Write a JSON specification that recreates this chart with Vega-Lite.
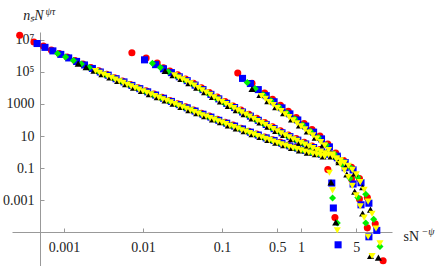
{
"$schema": "https://vega.github.io/schema/vega-lite/v6.json",
"width": 380, "height": 234,
"autosize": "none",
"padding": {"left": 12, "top": 32, "right": 44, "bottom": 0},
"background": "white",
"config": {"view": {"stroke": null}, "font": "Liberation Serif"},
"datasets": {"pts": [
{"k":1,"s":2.754e-4,"n":1.995e7},{"k":1,"s":4.169e-4,"n":7.586e6},{"k":1,"s":5.495e-4,"n":4.169e6},{"k":1,"s":6.918e-4,"n":2.399e6},{"k":1,"s":8.710e-4,"n":1.445e6},{"k":1,"s":1.096e-3,"n":8.710e5},{"k":1,"s":1.380e-3,"n":5.248e5},{"k":1,"s":1.738e-3,"n":3.162e5},{"k":1,"s":2.188e-3,"n":1.905e5},{"k":1,"s":2.754e-3,"n":1.202e5},{"k":1,"s":3.467e-3,"n":7.244e4},{"k":1,"s":4.365e-3,"n":4.365e4},{"k":1,"s":5.495e-3,"n":2.754e4},{"k":1,"s":6.918e-3,"n":1.660e4},{"k":1,"s":8.710e-3,"n":1.047e4},{"k":1,"s":1.096e-2,"n":6.607e3},{"k":1,"s":1.380e-2,"n":4.169e3},{"k":1,"s":1.738e-2,"n":2.630e3},{"k":1,"s":2.188e-2,"n":1.660e3},{"k":1,"s":2.754e-2,"n":1.047e3},{"k":1,"s":3.467e-2,"n":660.7},{"k":1,"s":4.365e-2,"n":416.9},{"k":1,"s":5.495e-2,"n":263.0},{"k":1,"s":6.918e-2,"n":173.8},{"k":1,"s":8.710e-2,"n":109.6},{"k":1,"s":0.1096,"n":72.44},{"k":1,"s":0.1380,"n":47.86},{"k":1,"s":0.1738,"n":30.20},{"k":1,"s":0.2188,"n":19.95},{"k":1,"s":0.2754,"n":13.18},{"k":1,"s":0.3467,"n":8.710},{"k":1,"s":0.4365,"n":5.754},{"k":1,"s":0.5495,"n":3.981},{"k":1,"s":0.6918,"n":2.754},{"k":1,"s":0.8710,"n":1.995},{"k":1,"s":1.096,"n":1.380},{"k":1,"s":1.380,"n":1.047},{"k":1,"s":1.738,"n":0.7943},{"k":1,"s":2.188,"n":0.07943},{"k":1,"s":2.692,"n":7.943e-5},
{"k":1,"s":7.244e-3,"n":1.585e6},{"k":1,"s":1.096e-2,"n":7.586e5},{"k":1,"s":1.514e-2,"n":3.631e5},{"k":1,"s":1.820e-2,"n":1.820e5},{"k":1,"s":2.188e-2,"n":1.148e5},{"k":1,"s":2.754e-2,"n":6.607e4},{"k":1,"s":3.467e-2,"n":3.631e4},{"k":1,"s":4.365e-2,"n":1.995e4},{"k":1,"s":5.495e-2,"n":1.047e4},{"k":1,"s":6.918e-2,"n":5.248e3},{"k":1,"s":8.710e-2,"n":2.754e3},{"k":1,"s":0.1096,"n":1.445e3},{"k":1,"s":0.1380,"n":758.6},{"k":1,"s":0.1738,"n":416.9},{"k":1,"s":0.2188,"n":229.1},{"k":1,"s":0.2754,"n":125.9},{"k":1,"s":0.3467,"n":69.18},{"k":1,"s":0.4365,"n":38.02},{"k":1,"s":0.5495,"n":20.89},{"k":1,"s":0.6918,"n":11.48},{"k":1,"s":0.8710,"n":6.918},{"k":1,"s":1.096,"n":3.981},{"k":1,"s":1.380,"n":2.399},{"k":1,"s":1.738,"n":1.445},{"k":1,"s":2.188,"n":0.9120},{"k":1,"s":2.754,"n":0.5495},{"k":1,"s":3.467,"n":0.2884},{"k":1,"s":4.365,"n":0.1096},{"k":1,"s":5.495,"n":2.188e-2},{"k":1,"s":6.918,"n":1.445e-3},{"k":1,"s":8.710,"n":3.311e-5},{"k":1,"s":10.96,"n":1.585e-7},
{"k":1,"s":0.1585,"n":8.710e4},{"k":1,"s":0.2399,"n":1.995e4},{"k":1,"s":0.3467,"n":4.786e3},{"k":1,"s":0.4365,"n":1.995e3},{"k":1,"s":0.5495,"n":831.8},{"k":1,"s":0.6918,"n":346.7},{"k":1,"s":0.8710,"n":144.5},{"k":1,"s":1.096,"n":60.26},{"k":1,"s":1.380,"n":25.12},{"k":1,"s":1.738,"n":10.0},{"k":1,"s":2.188,"n":3.162},{"k":1,"s":2.754,"n":0.8710},{"k":1,"s":3.467,"n":0.1820},{"k":1,"s":4.365,"n":2.089e-2},{"k":1,"s":5.495,"n":1.148e-3},{"k":1,"s":6.918,"n":1.820e-5},
{"k":2,"s":4.571e-4,"n":6.026e6},{"k":2,"s":5.754e-4,"n":3.467e6},{"k":2,"s":7.244e-4,"n":2.089e6},{"k":2,"s":9.120e-4,"n":1.259e6},{"k":2,"s":1.148e-3,"n":7.586e5},{"k":2,"s":1.445e-3,"n":4.571e5},{"k":2,"s":1.820e-3,"n":2.754e5},{"k":2,"s":2.291e-3,"n":1.660e5},{"k":2,"s":2.884e-3,"n":1.0e5},{"k":2,"s":3.631e-3,"n":6.310e4},{"k":2,"s":4.571e-3,"n":3.802e4},{"k":2,"s":5.754e-3,"n":2.399e4},{"k":2,"s":7.244e-3,"n":1.445e4},{"k":2,"s":9.120e-3,"n":9.120e3},{"k":2,"s":1.148e-2,"n":5.754e3},{"k":2,"s":1.445e-2,"n":3.631e3},{"k":2,"s":1.820e-2,"n":2.291e3},{"k":2,"s":2.291e-2,"n":1.445e3},{"k":2,"s":2.884e-2,"n":912.0},{"k":2,"s":3.631e-2,"n":575.4},{"k":2,"s":4.571e-2,"n":363.1},{"k":2,"s":5.754e-2,"n":229.1},{"k":2,"s":7.244e-2,"n":151.4},{"k":2,"s":9.120e-2,"n":95.50},{"k":2,"s":0.1148,"n":63.10},{"k":2,"s":0.1445,"n":41.69},{"k":2,"s":0.1820,"n":27.54},{"k":2,"s":0.2291,"n":17.38},{"k":2,"s":0.2884,"n":11.48},{"k":2,"s":0.3631,"n":7.586},{"k":2,"s":0.4571,"n":5.248},{"k":2,"s":0.5754,"n":3.467},{"k":2,"s":0.7244,"n":2.399},{"k":2,"s":0.9120,"n":1.738},{"k":2,"s":1.148,"n":1.259},{"k":2,"s":1.445,"n":0.9550},{"k":2,"s":1.820,"n":0.7244},{"k":2,"s":2.455,"n":1.148e-2},{"k":2,"s":2.570,"n":3.162e-4},{"k":2,"s":2.951,"n":1.585e-6},
{"k":2,"s":1.047e-2,"n":5.754e5},{"k":2,"s":1.445e-2,"n":2.884e5},{"k":2,"s":1.820e-2,"n":1.585e5},{"k":2,"s":2.291e-2,"n":9.120e4},{"k":2,"s":2.884e-2,"n":5.012e4},{"k":2,"s":3.631e-2,"n":2.884e4},{"k":2,"s":4.571e-2,"n":1.514e4},{"k":2,"s":5.754e-2,"n":7.943e3},{"k":2,"s":7.244e-2,"n":3.981e3},{"k":2,"s":9.120e-2,"n":2.089e3},{"k":2,"s":0.1148,"n":1.096e3},{"k":2,"s":0.1445,"n":602.6},{"k":2,"s":0.1820,"n":316.2},{"k":2,"s":0.2291,"n":173.8},{"k":2,"s":0.2884,"n":95.50},{"k":2,"s":0.3631,"n":52.48},{"k":2,"s":0.4571,"n":28.84},{"k":2,"s":0.5754,"n":15.85},{"k":2,"s":0.7244,"n":9.120},{"k":2,"s":0.9120,"n":5.495},{"k":2,"s":1.148,"n":3.162},{"k":2,"s":1.445,"n":1.905},{"k":2,"s":1.820,"n":1.148},{"k":2,"s":2.291,"n":0.7244},{"k":2,"s":2.884,"n":0.4365},{"k":2,"s":3.631,"n":0.2188},{"k":2,"s":4.571,"n":7.586e-2},{"k":2,"s":5.754,"n":1.202e-2},{"k":2,"s":7.244,"n":6.310e-4},{"k":2,"s":9.120,"n":1.259e-5},
{"k":2,"s":0.1820,"n":3.981e4},{"k":2,"s":0.2291,"n":1.905e4},{"k":2,"s":0.2884,"n":7.943e3},{"k":2,"s":0.3631,"n":3.311e3},{"k":2,"s":0.4571,"n":1.380e3},{"k":2,"s":0.5754,"n":575.4},{"k":2,"s":0.7244,"n":239.9},{"k":2,"s":0.9120,"n":100},{"k":2,"s":1.148,"n":41.69},{"k":2,"s":1.445,"n":17.38},{"k":2,"s":1.820,"n":6.607},{"k":2,"s":2.291,"n":2.089},{"k":2,"s":2.884,"n":0.5495},{"k":2,"s":3.631,"n":0.1047},{"k":2,"s":4.571,"n":1.0e-2},{"k":2,"s":5.754,"n":5.012e-4},{"k":2,"s":7.244,"n":5.012e-6},
{"k":3,"s":8.318e-4,"n":1.445e6},{"k":3,"s":1.047e-3,"n":8.710e5},{"k":3,"s":1.318e-3,"n":5.248e5},{"k":3,"s":1.660e-3,"n":3.162e5},{"k":3,"s":2.089e-3,"n":1.905e5},{"k":3,"s":2.630e-3,"n":1.148e5},{"k":3,"s":3.311e-3,"n":6.918e4},{"k":3,"s":4.169e-3,"n":4.365e4},{"k":3,"s":5.248e-3,"n":2.630e4},{"k":3,"s":6.607e-3,"n":1.660e4},{"k":3,"s":8.318e-3,"n":1.047e4},{"k":3,"s":1.047e-2,"n":6.310e3},{"k":3,"s":1.318e-2,"n":3.981e3},{"k":3,"s":1.660e-2,"n":2.512e3},{"k":3,"s":2.089e-2,"n":1.585e3},{"k":3,"s":2.630e-2,"n":1.000e3},{"k":3,"s":3.311e-2,"n":631.0},{"k":3,"s":4.169e-2,"n":416.9},{"k":3,"s":5.248e-2,"n":263.0},{"k":3,"s":6.607e-2,"n":166.0},{"k":3,"s":8.318e-2,"n":109.6},{"k":3,"s":0.1047,"n":69.18},{"k":3,"s":0.1318,"n":45.71},{"k":3,"s":0.1660,"n":30.20},{"k":3,"s":0.2089,"n":19.95},{"k":3,"s":0.2630,"n":13.18},{"k":3,"s":0.3311,"n":8.318},{"k":3,"s":0.4169,"n":5.754},{"k":3,"s":0.5248,"n":3.802},{"k":3,"s":0.6607,"n":2.630},{"k":3,"s":0.8318,"n":1.820},{"k":3,"s":1.047,"n":1.318},{"k":3,"s":1.318,"n":0.9550},{"k":3,"s":1.660,"n":0.7586},{"k":3,"s":2.512,"n":1.318e-3},{"k":3,"s":2.884,"n":3.631e-5},
{"k":3,"s":1.318e-2,"n":3.467e5},{"k":3,"s":1.660e-2,"n":1.905e5},{"k":3,"s":2.089e-2,"n":1.047e5},{"k":3,"s":2.630e-2,"n":5.754e4},{"k":3,"s":3.311e-2,"n":3.311e4},{"k":3,"s":4.169e-2,"n":1.820e4},{"k":3,"s":5.248e-2,"n":9.120e3},{"k":3,"s":6.607e-2,"n":4.786e3},{"k":3,"s":8.318e-2,"n":2.399e3},{"k":3,"s":0.1047,"n":1.259e3},{"k":3,"s":0.1318,"n":691.8},{"k":3,"s":0.1660,"n":380.2},{"k":3,"s":0.2089,"n":208.9},{"k":3,"s":0.2630,"n":109.6},{"k":3,"s":0.3311,"n":60.26},{"k":3,"s":0.4169,"n":33.11},{"k":3,"s":0.5248,"n":18.20},{"k":3,"s":0.6607,"n":10.47},{"k":3,"s":0.8318,"n":6.026},{"k":3,"s":1.047,"n":3.631},{"k":3,"s":1.318,"n":2.089},{"k":3,"s":1.660,"n":1.259},{"k":3,"s":2.089,"n":0.7943},{"k":3,"s":2.630,"n":0.5012},{"k":3,"s":3.311,"n":0.2754},{"k":3,"s":4.169,"n":0.1148},{"k":3,"s":5.248,"n":2.630e-2},{"k":3,"s":6.607,"n":2.291e-3},{"k":3,"s":8.318,"n":6.310e-5},{"k":3,"s":10.0,"n":1.259e-6},
{"k":3,"s":0.2089,"n":2.188e4},{"k":3,"s":0.2630,"n":9.120e3},{"k":3,"s":0.3311,"n":3.802e3},{"k":3,"s":0.4169,"n":1.585e3},{"k":3,"s":0.5248,"n":660.7},{"k":3,"s":0.6607,"n":275.4},{"k":3,"s":0.8318,"n":114.8},{"k":3,"s":1.047,"n":47.86},{"k":3,"s":1.318,"n":19.95},{"k":3,"s":1.660,"n":7.943},{"k":3,"s":2.089,"n":2.754},{"k":3,"s":2.630,"n":0.7586},{"k":3,"s":3.311,"n":0.1738},{"k":3,"s":4.169,"n":2.291e-2},{"k":3,"s":5.248,"n":1.445e-3},{"k":3,"s":6.607,"n":3.631e-5},
{"k":4,"s":1.514e-3,"n":3.311e5},{"k":4,"s":1.905e-3,"n":1.995e5},{"k":4,"s":2.399e-3,"n":1.202e5},{"k":4,"s":3.020e-3,"n":7.244e4},{"k":4,"s":3.802e-3,"n":4.571e4},{"k":4,"s":4.786e-3,"n":2.754e4},{"k":4,"s":6.026e-3,"n":1.738e4},{"k":4,"s":7.586e-3,"n":1.047e4},{"k":4,"s":9.550e-3,"n":6.607e3},{"k":4,"s":1.202e-2,"n":4.169e3},{"k":4,"s":1.514e-2,"n":2.630e3},{"k":4,"s":1.905e-2,"n":1.660e3},{"k":4,"s":2.399e-2,"n":1.047e3},{"k":4,"s":3.020e-2,"n":660.7},{"k":4,"s":3.802e-2,"n":416.9},{"k":4,"s":4.786e-2,"n":263.0},{"k":4,"s":6.026e-2,"n":173.8},{"k":4,"s":7.586e-2,"n":109.6},{"k":4,"s":9.550e-2,"n":72.44},{"k":4,"s":0.1202,"n":45.71},{"k":4,"s":0.1514,"n":30.20},{"k":4,"s":0.1905,"n":19.95},{"k":4,"s":0.2399,"n":13.18},{"k":4,"s":0.3020,"n":8.710},{"k":4,"s":0.3802,"n":5.754},{"k":4,"s":0.4786,"n":3.802},{"k":4,"s":0.6026,"n":2.630},{"k":4,"s":0.7586,"n":1.820},{"k":4,"s":0.9550,"n":1.259},{"k":4,"s":1.202,"n":0.9120},{"k":4,"s":1.514,"n":0.7244},{"k":4,"s":1.905,"n":0.5248},{"k":4,"s":2.399,"n":1.259e-2},{"k":4,"s":2.754,"n":3.981e-5},
{"k":4,"s":1.905e-2,"n":1.148e5},{"k":4,"s":2.399e-2,"n":6.310e4},{"k":4,"s":3.020e-2,"n":3.631e4},{"k":4,"s":3.802e-2,"n":1.995e4},{"k":4,"s":4.786e-2,"n":1.047e4},{"k":4,"s":6.026e-2,"n":5.495e3},{"k":4,"s":7.586e-2,"n":2.754e3},{"k":4,"s":9.550e-2,"n":1.445e3},{"k":4,"s":0.1202,"n":758.6},{"k":4,"s":0.1514,"n":416.9},{"k":4,"s":0.1905,"n":229.1},{"k":4,"s":0.2399,"n":125.9},{"k":4,"s":0.3020,"n":69.18},{"k":4,"s":0.3802,"n":38.02},{"k":4,"s":0.4786,"n":20.89},{"k":4,"s":0.6026,"n":11.48},{"k":4,"s":0.7586,"n":6.607},{"k":4,"s":0.9550,"n":3.802},{"k":4,"s":1.202,"n":2.291},{"k":4,"s":1.514,"n":1.380},{"k":4,"s":1.905,"n":0.8318},{"k":4,"s":2.399,"n":0.5248},{"k":4,"s":3.020,"n":0.3020},{"k":4,"s":3.802,"n":0.1514},{"k":4,"s":4.786,"n":4.571e-2},{"k":4,"s":6.026,"n":6.310e-3},{"k":4,"s":7.586,"n":2.512e-4},{"k":4,"s":9.550,"n":2.512e-7},
{"k":4,"s":0.2399,"n":8.710e3},{"k":4,"s":0.3020,"n":3.631e3},{"k":4,"s":0.3802,"n":1.514e3},{"k":4,"s":0.4786,"n":631.0},{"k":4,"s":0.6026,"n":263.0},{"k":4,"s":0.7586,"n":109.6},{"k":4,"s":0.9550,"n":45.71},{"k":4,"s":1.202,"n":19.05},{"k":4,"s":1.514,"n":7.943},{"k":4,"s":1.905,"n":2.884},{"k":4,"s":2.399,"n":0.8710},{"k":4,"s":3.020,"n":0.2291},{"k":4,"s":3.802,"n":3.981e-2},{"k":4,"s":4.786,"n":3.311e-3},{"k":4,"s":6.026,"n":1.445e-4},{"k":4,"s":7.586,"n":3.162e-7},
{"k":5,"s":2.512e-3,"n":1.148e5},{"k":5,"s":3.162e-3,"n":6.918e4},{"k":5,"s":3.981e-3,"n":4.365e4},{"k":5,"s":5.012e-3,"n":2.630e4},{"k":5,"s":6.310e-3,"n":1.585e4},{"k":5,"s":7.943e-3,"n":1.0e4},{"k":5,"s":1.0e-2,"n":6.310e3},{"k":5,"s":1.259e-2,"n":3.981e3},{"k":5,"s":1.585e-2,"n":2.512e3},{"k":5,"s":1.995e-2,"n":1.585e3},{"k":5,"s":2.512e-2,"n":1.0e3},{"k":5,"s":3.162e-2,"n":631.0},{"k":5,"s":3.981e-2,"n":398.1},{"k":5,"s":5.012e-2,"n":251.2},{"k":5,"s":6.310e-2,"n":166.0},{"k":5,"s":7.943e-2,"n":104.7},{"k":5,"s":0.1,"n":69.18},{"k":5,"s":0.1259,"n":43.65},{"k":5,"s":0.1585,"n":28.84},{"k":5,"s":0.1995,"n":19.05},{"k":5,"s":0.2512,"n":12.59},{"k":5,"s":0.3162,"n":8.318},{"k":5,"s":0.3981,"n":5.495},{"k":5,"s":0.5012,"n":3.631},{"k":5,"s":0.6310,"n":2.512},{"k":5,"s":0.7943,"n":1.738},{"k":5,"s":1.0,"n":1.259},{"k":5,"s":1.259,"n":0.9120},{"k":5,"s":1.585,"n":0.6918},{"k":5,"s":1.995,"n":0.5248},{"k":5,"s":2.291,"n":0.05012},{"k":5,"s":2.512,"n":3.981e-3},{"k":5,"s":2.884,"n":1.259e-5},
{"k":5,"s":2.818e-3,"n":8.913e4},{"k":5,"s":3.548e-3,"n":5.495e4},{"k":5,"s":4.467e-3,"n":3.311e4},{"k":5,"s":5.623e-3,"n":2.089e4},{"k":5,"s":7.079e-3,"n":1.259e4},{"k":5,"s":8.913e-3,"n":7.943e3},{"k":5,"s":1.122e-2,"n":5.012e3},{"k":5,"s":1.413e-2,"n":3.162e3},{"k":5,"s":1.778e-2,"n":1.995e3},{"k":5,"s":2.239e-2,"n":1.259e3},{"k":5,"s":2.818e-2,"n":794.3},{"k":5,"s":3.548e-2,"n":501.2},{"k":5,"s":4.467e-2,"n":316.2},{"k":5,"s":5.623e-2,"n":199.5},{"k":5,"s":7.079e-2,"n":131.8},{"k":5,"s":8.913e-2,"n":83.18},{"k":5,"s":0.1122,"n":54.95},{"k":5,"s":0.1413,"n":36.31},{"k":5,"s":0.1778,"n":22.91},{"k":5,"s":0.2239,"n":15.14},{"k":5,"s":0.2818,"n":10.0},{"k":5,"s":0.3548,"n":6.607},{"k":5,"s":0.4467,"n":4.467},{"k":5,"s":0.5623,"n":3.020},{"k":5,"s":0.7079,"n":2.089},{"k":5,"s":0.8913,"n":1.514},{"k":5,"s":1.122,"n":1.072},{"k":5,"s":1.413,"n":0.7943},{"k":5,"s":1.778,"n":0.6026},
{"k":5,"s":2.512e-2,"n":6.310e4},{"k":5,"s":3.162e-2,"n":3.467e4},{"k":5,"s":3.981e-2,"n":1.995e4},{"k":5,"s":5.012e-2,"n":1.0e4},{"k":5,"s":6.310e-2,"n":5.248e3},{"k":5,"s":7.943e-2,"n":2.630e3},{"k":5,"s":0.1,"n":1.380e3},{"k":5,"s":0.1259,"n":758.6},{"k":5,"s":0.1585,"n":398.1},{"k":5,"s":0.1995,"n":218.8},{"k":5,"s":0.2512,"n":120.2},{"k":5,"s":0.3162,"n":66.07},{"k":5,"s":0.3981,"n":36.31},{"k":5,"s":0.5012,"n":19.95},{"k":5,"s":0.6310,"n":10.96},{"k":5,"s":0.7943,"n":6.310},{"k":5,"s":1.0,"n":3.802},{"k":5,"s":1.259,"n":2.291},{"k":5,"s":1.585,"n":1.318},{"k":5,"s":1.995,"n":0.8318},{"k":5,"s":2.512,"n":0.5248},{"k":5,"s":3.162,"n":0.3020},{"k":5,"s":3.981,"n":0.1380},{"k":5,"s":5.012,"n":3.981e-2},{"k":5,"s":6.310,"n":4.365e-3},{"k":5,"s":7.943,"n":1.380e-4},{"k":5,"s":10.0,"n":1.995e-6},
{"k":5,"s":2.818e-2,"n":4.571e4},{"k":5,"s":3.548e-2,"n":2.630e4},{"k":5,"s":4.467e-2,"n":1.445e4},{"k":5,"s":5.623e-2,"n":7.244e3},{"k":5,"s":7.079e-2,"n":3.802e3},{"k":5,"s":8.913e-2,"n":1.905e3},{"k":5,"s":0.1122,"n":1.0e3},{"k":5,"s":0.1413,"n":549.5},{"k":5,"s":0.1778,"n":302.0},{"k":5,"s":0.2239,"n":166.0},{"k":5,"s":0.2818,"n":87.10},{"k":5,"s":0.3548,"n":50.12},{"k":5,"s":0.4467,"n":26.92},{"k":5,"s":0.5623,"n":14.79},{"k":5,"s":0.7079,"n":8.318},{"k":5,"s":0.8913,"n":5.012},{"k":5,"s":1.122,"n":2.884},{"k":5,"s":1.413,"n":1.738},{"k":5,"s":1.778,"n":1.047},{"k":5,"s":2.239,"n":0.6607},{"k":5,"s":2.818,"n":0.3981},{"k":5,"s":3.548,"n":0.2089},{"k":5,"s":4.467,"n":7.586e-2},{"k":5,"s":5.623,"n":1.318e-2},{"k":5,"s":7.079,"n":7.943e-4},{"k":5,"s":8.913,"n":1.660e-5},
{"k":5,"s":0.3162,"n":3.162e3},{"k":5,"s":0.3981,"n":1.318e3},{"k":5,"s":0.5012,"n":549.5},{"k":5,"s":0.6310,"n":229.1},{"k":5,"s":0.7943,"n":95.50},{"k":5,"s":1.0,"n":39.81},{"k":5,"s":1.259,"n":16.60},{"k":5,"s":1.585,"n":6.918},{"k":5,"s":1.995,"n":2.512},{"k":5,"s":2.512,"n":0.6918},{"k":5,"s":3.162,"n":0.1738},{"k":5,"s":3.981,"n":2.754e-2},{"k":5,"s":5.012,"n":1.995e-3},{"k":5,"s":6.310,"n":7.943e-5},{"k":5,"s":7.943,"n":3.162e-7},
{"k":5,"s":0.3548,"n":2.089e3},{"k":5,"s":0.4467,"n":871.0},{"k":5,"s":0.5623,"n":363.1},{"k":5,"s":0.7079,"n":151.4},{"k":5,"s":0.8913,"n":63.10},{"k":5,"s":1.122,"n":26.30},{"k":5,"s":1.413,"n":10.96},{"k":5,"s":1.778,"n":4.169},{"k":5,"s":2.239,"n":1.318},{"k":5,"s":2.818,"n":0.3548},{"k":5,"s":3.548,"n":7.079e-2},{"k":5,"s":4.467,"n":7.586e-3},{"k":5,"s":5.623,"n":3.981e-4},{"k":5,"s":7.079,"n":5.012e-6}
]},
"layer": [
{
"data": {"name": "pts"},
"mark": {"type": "point", "filled": true, "opacity": 1, "size": 50},
"encoding": {
"x": {"field": "s", "type": "quantitative",
 "scale": {"type": "log", "domain": [2.2e-4, 14.2], "nice": false},
 "axis": {"orient": "bottom", "offset": -34, "values": [0.001, 0.01, 0.1, 0.5, 1, 5], "format": "~g",
  "grid": false, "labelFont": "Liberation Serif", "labelFontSize": 14, "labelColor": "#222",
  "domainColor": "#999", "tickColor": "#999", "tickSize": -4, "labelPadding": 12,
  "labelFlush": false, "labelOverlap": false,
  "title": "sN", "titleX": 391, "titleY": 8, "titleAngle": 0, "titleAlign": "left", "titleBaseline": "alphabetic",
  "titleFont": "Liberation Serif", "titleFontSize": 14, "titleFontWeight": "normal", "titleColor": "#222"}},
"y": {"field": "n", "type": "quantitative",
 "scale": {"type": "log", "domain": [7.5e-8, 3.162e7], "nice": false},
 "axis": {"orient": "left", "offset": -28, "values": [1e7, 1e5, 1000, 10, 0.1, 0.001],
  "labelExpr": "datum.value >= 1e7 ? '10⁷' : datum.value >= 1e5 ? '10⁵' : format(datum.value, '~g')",
  "grid": false, "labelFont": "Liberation Serif", "labelFontSize": 14, "labelColor": "#222",
  "domainColor": "#999", "tickColor": "#999", "tickSize": -4, "labelPadding": 10,
  "labelFlush": false, "labelOverlap": false,
  "title": "nₛN", "titleX": 3, "titleY": -13, "titleAngle": 0, "titleAlign": "right", "titleBaseline": "alphabetic",
  "titleFont": "Liberation Serif", "titleFontSize": 14, "titleFontStyle": "italic", "titleFontWeight": "normal", "titleColor": "#222"}},
"color": {"field": "k", "type": "nominal", "scale": {"domain": [1,2,3,4,5], "range": ["#ff0000","#0000ff","#00ee00","#000000","#ffff00"]}, "legend": null},
"shape": {"field": "k", "type": "nominal", "scale": {"domain": [1,2,3,4,5], "range": ["circle","square","diamond","triangle-up","triangle-down"]}, "legend": null}
}
},
{
"data": {"values": [{"s": 1, "n": 1}]},
"mark": {"type": "point", "opacity": 0},
"encoding": {
"x": {"field": "s", "type": "quantitative",
 "scale": {"type": "log", "domain": [2.2e-4, 14.2], "nice": false},
 "axis": {"orient": "top", "domain": false, "ticks": false, "labels": false, "grid": false,
  "title": "−ψ", "titleX": 409, "titleY": 202, "titleAngle": 0, "titleAlign": "left", "titleBaseline": "alphabetic",
  "titleFont": "Liberation Serif", "titleFontSize": 10, "titleFontStyle": "italic", "titleFontWeight": "normal", "titleColor": "#222"}},
"y": {"field": "n", "type": "quantitative",
 "scale": {"type": "log", "domain": [7.5e-8, 3.162e7], "nice": false},
 "axis": {"orient": "right", "domain": false, "ticks": false, "labels": false, "grid": false,
  "title": "ψτ", "titleX": -347, "titleY": -18, "titleAngle": 0, "titleAlign": "left", "titleBaseline": "alphabetic",
  "titleFont": "Liberation Serif", "titleFontSize": 10, "titleFontStyle": "italic", "titleFontWeight": "normal", "titleColor": "#222"}}
}
}
],
"resolve": {"axis": {"x": "independent", "y": "independent"}}
}
